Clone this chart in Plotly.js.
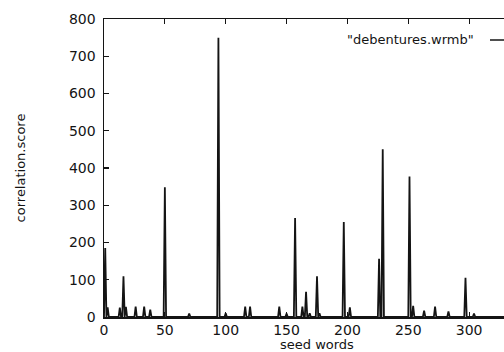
<!DOCTYPE html>
<html>
<head>
<meta charset="utf-8">
<script src="https://cdn.plot.ly/plotly-3.0.1.min.js"></script>
<style>
html,body{margin:0;padding:0;background:#fff;overflow:hidden;}
#wrap{width:504px;height:352px;overflow:hidden;position:relative;}
#chart{width:530px;height:352px;}
</style>
</head>
<body>
<div id="wrap"><div id="chart"></div></div>
<script>
// seed word index and correlation score (zeros between spikes)
const seedWords = [0,1,2,3,4,12,13,14,15,16,17,18,19,25,26,27,32,33,34,37,38,39,49,50,51,69,70,71,93,94,95,99,100,101,115,116,117,119,120,121,143,144,145,149,150,151,156,157,158,162,163,164,165,166,167,168,169,170,174,175,176,177,178,196,197,198,201,202,203,225,226,227,228,229,230,231,250,251,252,253,254,255,262,263,264,271,272,273,282,283,284,296,297,298,303,304,305,345];
const scores    = [0,185,0,26,0,0,25,0,0,109,0,27,0,0,28,0,0,28,0,0,20,0,0,348,0,0,9,0,0,750,0,0,10,0,0,28,0,0,28,0,0,28,0,0,9,0,0,266,0,0,28,0,0,68,0,0,10,0,0,109,0,10,0,0,255,0,0,26,0,0,156,0,0,450,0,0,0,377,0,0,30,0,0,17,0,0,28,0,0,15,0,0,105,0,0,9,0,0];
const seriesName = '"debentures.wrmb"';
const xTitle = 'seed words';
const yTitle = 'correlation.score';

const ink = '#141414';
const fnt = {family: 'DejaVu Sans, sans-serif', size: 14, color: ink};

const trace = {
  x: seedWords, y: scores, type: 'scatter', mode: 'lines',
  line: {color: ink, width: 1.8}, name: seriesName, showlegend: false,
  hoverinfo: 'x+y'
};

const axisCommon = {
  showgrid: false, zeroline: false, showline: true, mirror: 'ticks',
  linecolor: ink, linewidth: 1.5, ticks: 'inside', ticklen: 5,
  tickcolor: ink, tickwidth: 1.2, tickfont: fnt
};

const layout = {
  width: 530, height: 352,
  margin: {l: 104, r: 0, t: 19, b: 35},
  paper_bgcolor: '#fff', plot_bgcolor: '#fff',
  xaxis: Object.assign({}, axisCommon, {
    range: [0, 350], dtick: 50, tick0: 0, ticklabelstandoff: 0
  }),
  yaxis: Object.assign({}, axisCommon, {
    range: [0, 800], dtick: 100, tick0: 0, ticklabelstandoff: 4,
    title: {text: yTitle, font: {family: 'DejaVu Sans, sans-serif', size: 13, color: ink}, standoff: 40}
  }),
  annotations: [{
    xref: 'paper', yref: 'paper', x: (476 - 104) / 426, y: (317 - 40) / 298,
    xanchor: 'right', yanchor: 'middle', showarrow: false,
    text: seriesName, font: {family: 'DejaVu Sans, sans-serif', size: 13, color: ink}
  }, {
    xref: 'paper', yref: 'paper', x: 0.5, y: (317 - 344.5) / 298,
    xanchor: 'center', yanchor: 'middle', showarrow: false,
    text: xTitle, font: {family: 'DejaVu Sans, sans-serif', size: 13, color: ink}
  }],
  shapes: [{
    type: 'line', xref: 'paper', yref: 'paper',
    x0: (490 - 104) / 426, x1: (525 - 104) / 426,
    y0: (317 - 40) / 298, y1: (317 - 40) / 298,
    line: {color: ink, width: 1.5}
  }]
};

Plotly.newPlot('chart', [trace], layout, {displayModeBar: false, staticPlot: true});
</script>
</body>
</html>
